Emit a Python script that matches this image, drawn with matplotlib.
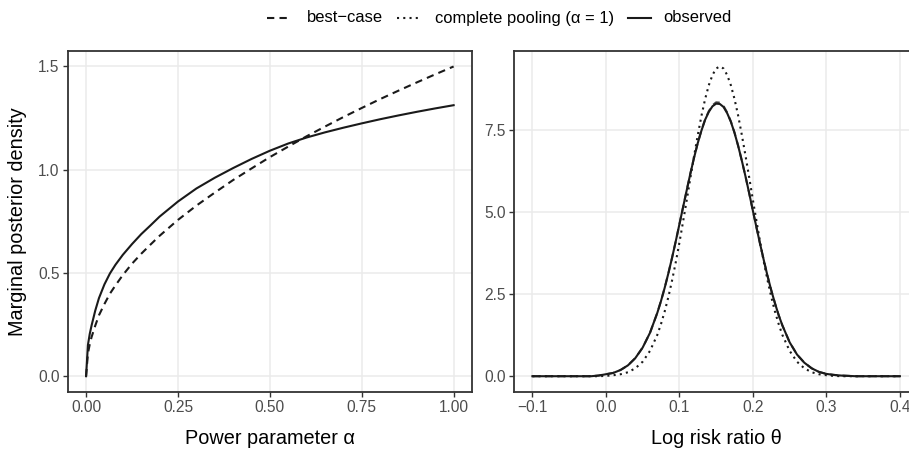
import matplotlib
matplotlib.use("Agg")
from matplotlib import pyplot as plt
from matplotlib.lines import Line2D

plt.rcParams['font.family'] = ['Liberation Sans', 'DejaVu Sans']

# ---- data ----
alpha = [0, 0.005, 0.01, 0.015, 0.025, 0.035, 0.05, 0.065, 0.08, 0.1, 0.125, 0.15,
         0.175, 0.2, 0.25, 0.3, 0.35, 0.4, 0.45, 0.5, 0.55, 0.6, 0.65, 0.7, 0.75,
         0.8, 0.85, 0.9, 0.95, 1.0]
alpha_observed = [0, 0.151, 0.205, 0.246, 0.318, 0.378, 0.445, 0.498, 0.54, 0.588, 0.64, 0.688,
                  0.73, 0.773, 0.846, 0.909, 0.961, 1.008, 1.052, 1.092, 1.127, 1.156, 1.181,
                  1.2035, 1.2245, 1.2445, 1.263, 1.2805, 1.297, 1.3125]
alpha_best = [0, 0.11, 0.155, 0.19, 0.245, 0.295, 0.35, 0.40, 0.44, 0.49, 0.545, 0.593,
              0.637, 0.68, 0.757, 0.826, 0.889, 0.95, 1.006, 1.061, 1.112, 1.162, 1.209,
              1.255, 1.299, 1.342, 1.383, 1.423, 1.462, 1.5]

theta = [-0.10, -0.09, -0.08, -0.07, -0.06, -0.05, -0.04, -0.03, -0.02, -0.01,
         0.00, 0.01, 0.02, 0.03, 0.04, 0.05, 0.06, 0.07,
         0.075, 0.08, 0.085, 0.09, 0.095, 0.10, 0.105, 0.11, 0.115, 0.12, 0.125,
         0.13, 0.135, 0.14, 0.145, 0.15, 0.155, 0.16, 0.165, 0.17, 0.175, 0.18,
         0.185, 0.19, 0.195, 0.20, 0.205, 0.21, 0.215, 0.22, 0.225, 0.23, 0.235,
         0.24, 0.25, 0.26, 0.27, 0.28, 0.29, 0.30, 0.31, 0.32, 0.33, 0.34, 0.35,
         0.36, 0.37, 0.38, 0.39, 0.40]
theta_observed = [0, 0, 0, 0, 0, 0, 0, 0, 0, 0.02,
                  0.06, 0.10, 0.19, 0.33, 0.55, 0.87, 1.32, 1.93,
                  2.29, 2.69, 3.13, 3.60, 4.10, 4.62, 5.14, 5.66, 6.17, 6.65, 7.09,
                  7.47, 7.80, 8.04, 8.21, 8.29, 8.28, 8.19, 8.00, 7.74, 7.40, 7.00,
                  6.55, 6.07, 5.56, 5.03, 4.51, 4.00, 3.51, 3.04, 2.61, 2.22, 1.86,
                  1.55, 1.03, 0.66, 0.41, 0.24, 0.13, 0.07, 0.04, 0.02, 0.01, 0, 0,
                  0, 0, 0, 0, 0]
theta_best = [0, 0, 0, 0, 0, 0, 0, 0, 0, 0.02,
              0.06, 0.10, 0.19, 0.33, 0.55, 0.87, 1.32, 1.93,
              2.29, 2.69, 3.13, 3.60, 4.10, 4.62, 5.14, 5.66, 6.17, 6.66, 7.10,
              7.48, 7.81, 8.06, 8.24, 8.33, 8.32, 8.22, 8.02, 7.75, 7.41, 7.00,
              6.55, 6.07, 5.56, 5.03, 4.51, 4.00, 3.51, 3.04, 2.61, 2.22, 1.86,
              1.55, 1.03, 0.66, 0.41, 0.24, 0.13, 0.07, 0.04, 0.02, 0.01, 0, 0,
              0, 0, 0, 0, 0]
theta_pooled = [0, 0, 0, 0, 0, 0, 0, 0, 0, 0,
                0.01, 0.03, 0.06, 0.12, 0.24, 0.44, 0.77, 1.26,
                1.59, 1.97, 2.41, 2.91, 3.46, 4.06, 4.70, 5.36, 6.04, 6.70, 7.33,
                7.92, 8.43, 8.85, 9.16, 9.36, 9.42, 9.36, 9.16, 8.85, 8.43, 7.92,
                7.33, 6.70, 6.04, 5.36, 4.70, 4.06, 3.46, 2.91, 2.41, 1.97, 1.59,
                1.26, 0.77, 0.44, 0.24, 0.12, 0.06, 0.03, 0.01, 0, 0, 0, 0,
                0, 0, 0, 0, 0]

alpha_ticks = [0, 0.25, 0.5, 0.75, 1.0]
alpha_ticklabels = ["0.00", "0.25", "0.50", "0.75", "1.00"]
dens1_ticks = [0, 0.5, 1.0, 1.5]
dens1_ticklabels = ["0.0", "0.5", "1.0", "1.5"]
theta_ticks = [-0.1, 0.0, 0.1, 0.2, 0.3, 0.4]
theta_ticklabels = ["\u22120.1", "0.0", "0.1", "0.2", "0.3", "0.4"]
dens2_ticks = [0, 2.5, 5.0, 7.5]
dens2_ticklabels = ["0.0", "2.5", "5.0", "7.5"]

labels = ["best\u2212case", "complete pooling (\u03b1 = 1)", "observed"]

LINE = '#1a1a1a'
LW = 1.5
DASHED = (0, (3.5, 2.5))
DOTTED = (0, (1, 2))

W, H = 909, 449
fig = plt.figure(figsize=(W / 100, H / 100), dpi=100)
fig.patch.set_facecolor('white')


def style_axes(ax, xticks, xlabels, yticks, ylabels):
    ax.set_facecolor('white')
    ax.grid(True, color='#EBEBEB', linewidth=1.1, zorder=0)
    ax.set_axisbelow(True)
    for s in ax.spines.values():
        s.set_color('#333333')
        s.set_linewidth(1.3)
    ax.set_xticks(xticks)
    ax.set_xticklabels(xlabels)
    ax.set_yticks(yticks)
    ax.set_yticklabels(ylabels)
    ax.tick_params(colors='#333333', labelcolor='#4D4D4D', labelsize=11.2,
                   length=3.3, width=1.0, pad=2.5)


# left panel: power parameter
ax1 = fig.add_axes([67.7 / W, 57.3 / H, 404.3 / W, 340.7 / H])
ax1.plot(alpha, alpha_best, color=LINE, lw=LW, linestyle=DASHED, zorder=3)
ax1.plot(alpha, alpha_observed, color=LINE, lw=LW, zorder=4)
ax1.set_xlim(-0.05, 1.05)
ax1.set_ylim(-0.075, 1.575)
style_axes(ax1, alpha_ticks, alpha_ticklabels, dens1_ticks, dens1_ticklabels)
ax1.set_xlabel("Power parameter \u03b1", fontsize=14.3, labelpad=10)
ax1.set_ylabel("Marginal posterior density", fontsize=14.3, labelpad=8)

# right panel: log risk ratio (runs past the right edge, like the reference)
ax2 = fig.add_axes([514 / W, 57.3 / H, 404.3 / W, 340.7 / H])
ax2.plot(theta, theta_best, color=LINE, lw=LW, linestyle=DASHED, zorder=3, alpha=0.8)
ax2.plot(theta, theta_pooled, color=LINE, lw=LW, linestyle=DOTTED, zorder=3)
ax2.plot(theta, theta_observed, color=LINE, lw=LW, zorder=4)
ax2.set_xlim(-0.125, 0.425)
ax2.set_ylim(-0.471, 9.891)
style_axes(ax2, theta_ticks, theta_ticklabels, dens2_ticks, dens2_ticklabels)
ax2.set_xlabel("Log risk ratio \u03b8", fontsize=14.3, labelpad=10)


# legend on top, drawn by hand in pixel units
def legend_item(x0, x1, xt, ls, text):
    y = 1 - 18 / H
    fig.add_artist(Line2D([x0 / W, x1 / W], [y, y], transform=fig.transFigure,
                          color=LINE, lw=LW, linestyle=ls))
    fig.text(xt / W, y, text, fontsize=11.9, va='center', ha='left', color='black')


legend_item(267, 287, 307, DASHED, labels[0])
legend_item(397, 420, 435, DOTTED, labels[1])
legend_item(628, 651, 663, '-', labels[2])

fig.savefig("out.png", dpi=100)
